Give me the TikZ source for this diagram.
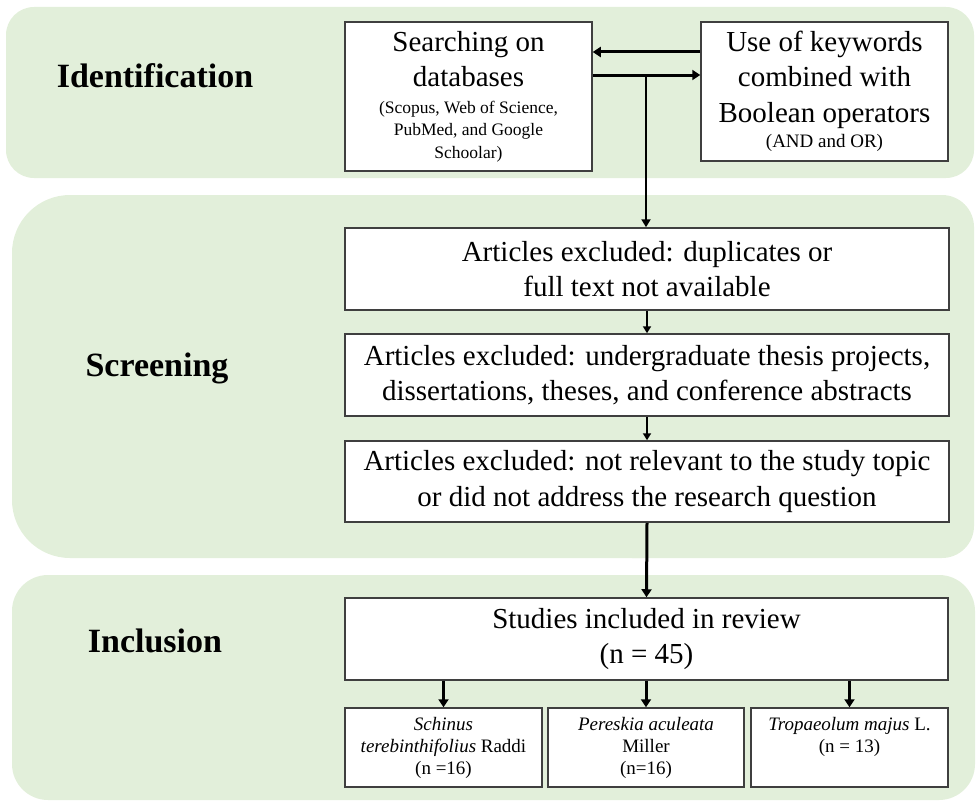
\documentclass[tikz,border=0pt]{standalone}
\usepackage{fontspec}
\setmainfont{Liberation Serif}
\usetikzlibrary{arrows.meta}
\definecolor{panel}{HTML}{E2EFDA}
\definecolor{boxline}{HTML}{3F3F3F}
\newcommand{\smallsz}{\fontsize{17.5}{22.5}\selectfont}
\newcommand{\midsz}{\fontsize{19}{22.5}\selectfont}
\begin{document}
\begin{tikzpicture}[x=1pt,y=-1pt,
  stagelabel/.style={font=\fontsize{34}{40}\selectfont\bfseries, anchor=base},
  flowbox/.style={draw=boxline, line width=1.5pt, fill=white, align=center, inner sep=0pt,
    font=\fontsize{29}{35.5}\selectfont},
  smallbox/.style={draw=boxline, line width=1.5pt, fill=white, align=center, inner sep=0pt,
    font=\fontsize{19}{22}\selectfont, minimum height=79pt},
  bigarrow/.style={line width=3pt, -{Triangle[width=10pt,length=8pt]}},
  thinarrow/.style={line width=2pt, -{Triangle[width=8pt,length=7pt]}},
]
\useasboundingbox (0,0) rectangle (976,800);
% panels
\fill[panel, rounded corners=28pt] (6,7) rectangle (974,178);
\fill[panel, rounded corners=58pt] (12,195) rectangle (700,558);
\fill[panel, rounded corners=32pt] (600,195) rectangle (974,558);
\fill[panel, rounded corners=36pt] (12,575) rectangle (975,800);
% stage labels
\node[stagelabel] (lid) at (155,87) {Identification};
\node[stagelabel] (lsc) at (157,376) {Screening};
\node[stagelabel] (lin) at (155,652) {Inclusion};
% boxes
\node[flowbox, minimum width=247pt, minimum height=149pt] (search) at (468.5,96.5)
  {Searching on\\databases\\[-9pt]\smallsz (Scopus, Web of Science,\\[-13pt]\smallsz PubMed, and Google\\[-13pt]\smallsz Schoolar)};
\node[flowbox, minimum width=247pt, minimum height=139pt] (kw) at (824.5,91.5)
  {Use of keywords\\combined with\\Boolean operators\\[-10pt]\midsz (AND and OR)};
\node[flowbox, minimum width=604pt, minimum height=82pt] (ex1) at (647,269)
  {Articles excluded: duplicates or\\full text not available};
\node[flowbox, minimum width=604pt, minimum height=82pt] (ex2) at (647,375)
  {Articles excluded: undergraduate thesis projects,\\dissertations, theses, and conference abstracts};
\node[flowbox, minimum width=604pt, minimum height=81pt] (ex3) at (647,481.5)
  {Articles excluded: not relevant to the study topic\\or did not address the research question};
\node[flowbox, minimum width=603pt, minimum height=82pt] (stud) at (646.5,639)
  {Studies included in review\\(n = 45)};
\node[smallbox, minimum width=197pt] (s1) at (443.5,747.5)
  {\textit{Schinus}\\\textit{terebinthifolius} Raddi\\(n =16)};
\node[smallbox, minimum width=196pt] (s2) at (646,747.5)
  {\textit{Pereskia aculeata}\\Miller\\(n=16)};
\node[smallbox, minimum width=197pt] (s3) at (849.5,747.5)
  {\textit{Tropaeolum majus} L.\\(n = 13)\\\phantom{(n)}};
% connectors
\coordinate (ya) at (0,52);
\coordinate (yb) at (0,75);
\coordinate (j) at (646,75);
\draw[bigarrow] (kw.west |- ya) -- (search.east |- ya);
\draw[bigarrow] (search.east |- yb) -- (kw.west |- yb);
\draw[line width=2.5pt, -{Triangle[width=9pt,length=8pt]}] (j) -- (j |- ex1.north);
\draw[thinarrow] (ex1.south) -- (ex2.north);
\draw[thinarrow] (ex2.south) -- (ex3.north);
\draw[bigarrow] (ex3.south) -- (stud.north);
\draw[bigarrow] (stud.south -| s1.north) -- (s1.north);
\draw[bigarrow] (stud.south -| s2.north) -- (s2.north);
\draw[bigarrow] (stud.south -| s3.north) -- (s3.north);
\end{tikzpicture}
\end{document}
